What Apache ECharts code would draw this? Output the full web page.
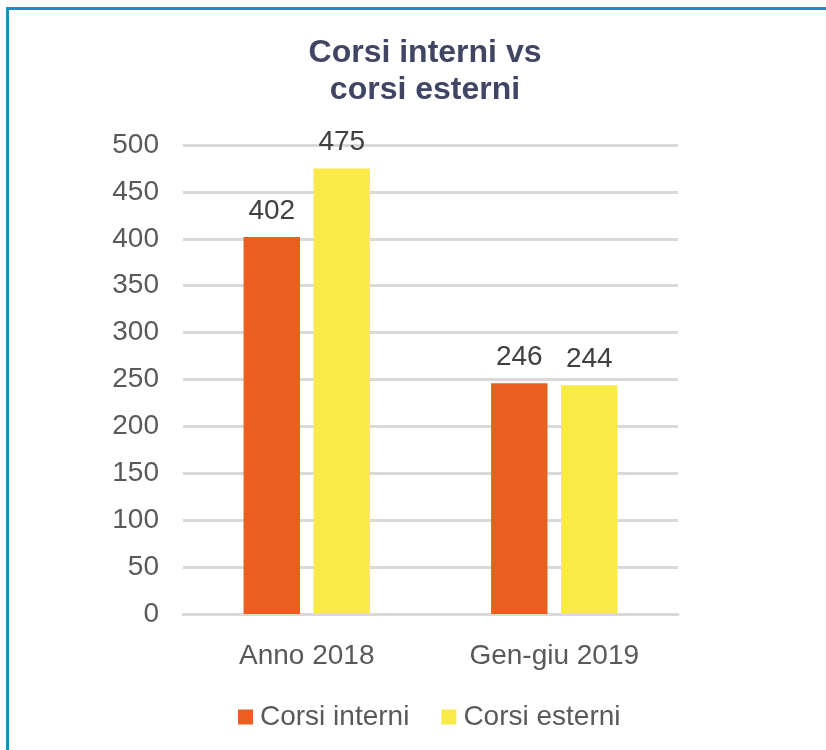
<!DOCTYPE html>
<html>
<head>
<meta charset="utf-8">
<script src="https://cdn.jsdelivr.net/npm/echarts@6/dist/echarts.min.js"></script>
<style>
html,body{margin:0;padding:0;background:#fff;}
#frame{position:absolute;left:6px;top:7px;width:830px;height:760px;border-top:3px solid #1b8cc4;border-left:3px solid #1b8cc4;box-sizing:border-box;}
#chart{position:absolute;left:0;top:0;width:826px;height:750px;}
</style>
</head>
<body>
<div id="frame"></div>
<div id="chart"></div>
<script>
const categories = ['Anno 2018', 'Gen-giu 2019'];
const corsiInterni = [402, 246];
const corsiEsterni = [475, 244];
const seriesNames = ['Corsi interni', 'Corsi esterni'];

const chart = echarts.init(document.getElementById('chart'));
const font = 'Liberation Sans, Arial, sans-serif';
chart.setOption({
  backgroundColor: 'transparent',
  animation: false,
  title: {
    text: 'Corsi interni vs\ncorsi esterni',
    left: 420, top: 30, textAlign: 'center',
    textStyle: {fontFamily: font, fontSize: 32, fontWeight: 'bold', color: '#404563', lineHeight: 37}
  },
  legend: {
    bottom: 14, left: 233,
    itemWidth: 15, itemHeight: 15, itemGap: 32,
    icon: 'rect',
    textStyle: {fontFamily: font, fontSize: 28, color: '#595959', padding: [0, 0, 0, 2]},
    data: seriesNames
  },
  grid: {left: 183, right: 148, top: 145, bottom: 136},
  xAxis: {
    type: 'category', data: categories,
    axisLine: {lineStyle: {color: '#d9d9d9', width: 3}},
    axisTick: {show: false},
    axisLabel: {fontFamily: font, fontSize: 28, color: '#595959', margin: 28}
  },
  yAxis: {
    type: 'value', min: 0, max: 500, interval: 50,
    axisLine: {show: false}, axisTick: {show: false},
    axisLabel: {fontFamily: font, fontSize: 28, color: '#595959', margin: 24},
    splitLine: {lineStyle: {color: '#d9d9d9', width: 3}}
  },
  series: [
    {name: seriesNames[0], type: 'bar', data: corsiInterni, barWidth: '22.8%', barGap: '24%',
     itemStyle: {color: '#EA5F1F'},
     label: {show: true, position: 'top', distance: 12, fontFamily: font, fontSize: 28, color: '#404040'}},
    {name: seriesNames[1], type: 'bar', data: corsiEsterni, barWidth: '22.8%', barGap: '24%',
     itemStyle: {color: '#FAEA48'},
     label: {show: true, position: 'top', distance: 12, fontFamily: font, fontSize: 28, color: '#404040'}}
  ]
});
</script>
</body>
</html>
